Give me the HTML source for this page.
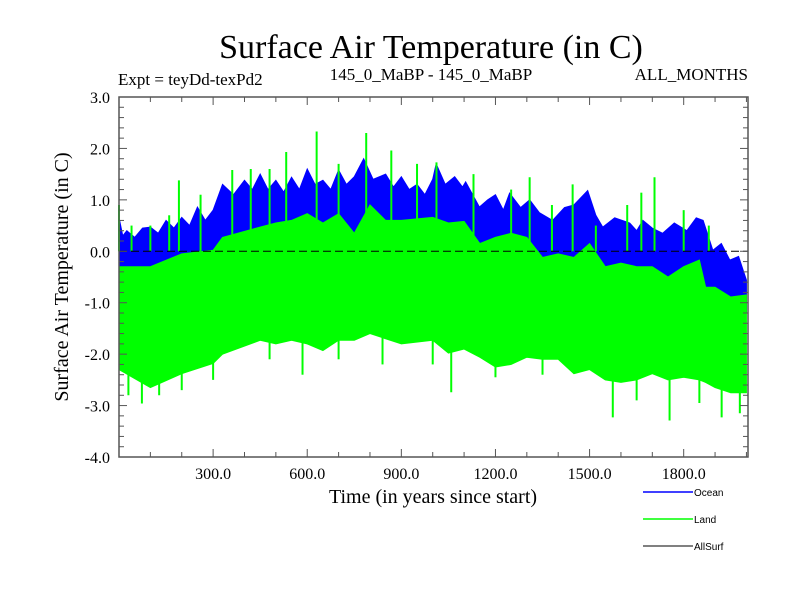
<!DOCTYPE html>
<html><head><meta charset="utf-8"><style>
body{margin:0;background:#fff;}
svg{display:block;font-family:"Liberation Serif",serif;}
</style></head><body>
<svg id="chart" width="800" height="600" viewBox="0 0 800 600">
<text x="431" y="58" font-size="34" text-anchor="middle">Surface Air Temperature (in C)</text>
<text x="118" y="85" font-size="17">Expt = teyDd-texPd2</text>
<text x="431" y="80" font-size="17" text-anchor="middle">145_0_MaBP - 145_0_MaBP</text>
<text x="748" y="80" font-size="17" text-anchor="end">ALL_MONTHS</text>
<text transform="translate(68,277) rotate(-90)" font-size="20" text-anchor="middle">Surface Air Temperature (in C)</text>
<text x="433" y="503" font-size="20" text-anchor="middle">Time (in years since start)</text>
<g id="plot"></g>
<g font-family="Liberation Sans, sans-serif" font-size="10">
<line x1="643" y1="492" x2="693" y2="492" stroke="#0000ff" stroke-width="1.5"/>
<text x="694" y="496">Ocean</text>
<line x1="643" y1="519" x2="693" y2="519" stroke="#00ff00" stroke-width="1.5"/>
<text x="694" y="523">Land</text>
<line x1="643" y1="546" x2="693" y2="546" stroke="#000" stroke-width="1"/>
<text x="694" y="550">AllSurf</text>
</g>
</svg>
<script>
const years = [0,12,25,50,75,100,125,150,175,200,225,250,275,300,330,365,400,425,450,475,500,525,550,575,600,625,650,675,700,725,750,780,810,850,875,900,925,950,975,1000,1011,1040,1070,1095,1105,1149,1175,1200,1225,1245,1280,1309,1340,1382,1420,1450,1494,1520,1542,1580,1628,1650,1670,1700,1733,1770,1810,1840,1862,1893,1920,1947,1975,2000];
const oceanTop = [0.66,0.3,0.4,0.27,0.45,0.47,0.35,0.6,0.45,0.66,0.5,0.86,0.6,0.8,1.3,1.1,1.38,1.2,1.5,1.2,1.38,1.15,1.44,1.2,1.6,1.3,1.38,1.2,1.58,1.3,1.45,1.8,1.4,1.5,1.25,1.45,1.2,1.3,1.1,1.4,1.7,1.3,1.45,1.25,1.35,0.86,1.0,1.1,0.8,1.13,0.85,1.0,0.75,0.6,0.85,0.9,1.18,0.7,0.47,0.65,0.55,0.4,0.6,0.45,0.35,0.55,0.4,0.65,0.6,0.02,0.15,-0.17,-0.1,-0.56];
const landYears = [0,100,200,300,330,450,500,550,600,650,700,750,800,850,900,1000,1050,1100,1150,1200,1250,1300,1350,1400,1450,1500,1550,1600,1650,1700,1750,1800,1850,1870,1900,1950,2000];
const landTop = [-0.3,-0.3,-0.05,0.02,0.27,0.47,0.55,0.6,0.73,0.55,0.73,0.35,0.9,0.6,0.6,0.66,0.55,0.58,0.15,0.27,0.35,0.27,-0.12,-0.05,-0.12,0.15,-0.3,-0.23,-0.3,-0.3,-0.5,-0.3,-0.17,-0.7,-0.7,-0.89,-0.85];
const landBottom = [-2.3,-2.65,-2.38,-2.18,-2.0,-1.73,-1.8,-1.73,-1.8,-1.93,-1.73,-1.73,-1.6,-1.7,-1.8,-1.73,-1.98,-1.9,-2.06,-2.25,-2.2,-2.06,-2.1,-2.1,-2.38,-2.3,-2.5,-2.55,-2.5,-2.38,-2.5,-2.45,-2.5,-2.55,-2.65,-2.75,-2.75];
const spikeYears = [0,191,361,533,630,788,868,1012,1309,1446,1665,1707,73,128,585,840,1059,1574,1755,1921,1979,40,100,160,260,420,480,700,950,1130,1250,1380,1520,1620,1800,1880,30,200,300,480,700,1000,1200,1350,1650,1850];
const spikeValues = [0.9,1.38,1.58,1.93,2.33,2.3,1.96,1.73,1.44,1.3,1.14,1.44,-2.96,-2.8,-2.4,-2.2,-2.74,-3.23,-3.29,-3.23,-3.15,0.5,0.5,0.7,1.1,1.6,1.6,1.7,1.7,1.5,1.2,0.9,0.5,0.9,0.8,0.5,-2.8,-2.7,-2.5,-2.1,-2.1,-2.2,-2.45,-2.4,-2.9,-2.95];
const xTicks = [300,600,900,1200,1500,1800];
const xTickLabels = ["300.0","600.0","900.0","1200.0","1500.0","1800.0"];
const yTicks = [3,2,1,0,-1,-2,-3,-4];
const yTickLabels = ["3.0","2.0","1.0","0.0","-1.0","-2.0","-3.0","-4.0"];

const L=119,R=748,T=97,B=457, X0=0,X1=2005, Y0=-4,Y1=3;
const sx=v=>L+(v-X0)/(X1-X0)*(R-L);
const sy=v=>B-(v-Y0)/(Y1-Y0)*(B-T);
const NS='http://www.w3.org/2000/svg';
const g=document.getElementById('plot');
function mk(tag,attrs){const e=document.createElementNS(NS,tag);for(const k in attrs)e.setAttribute(k,attrs[k]);g.appendChild(e);return e;}

let pts=years.map((y,i)=>sx(y)+','+sy(oceanTop[i]));
pts.push(sx(years[years.length-1])+','+sy(-1.2));pts.push(sx(0)+','+sy(-0.6));
const oc=mk('polygon',{points:pts.join(' '),fill:'#0000ff',stroke:'#0000ff','stroke-width':1});


let lp=landYears.map((y,i)=>sx(y)+','+sy(landTop[i]));
for(let i=landYears.length-1;i>=0;i--)lp.push(sx(landYears[i])+','+sy(landBottom[i]));
const ld=mk('polygon',{points:lp.join(' '),fill:'#00ff00',stroke:'#00ff00','stroke-width':1});


spikeYears.forEach((y,i)=>{
  const base=spikeValues[i]>0?0:-1.5;
  const s=mk('line',{x1:sx(y),x2:sx(y),y1:sy(base),y2:sy(spikeValues[i]),stroke:'#00ff00','stroke-width':2});
  
  
});
const z=mk('line',{x1:L,x2:R,y1:sy(0),y2:sy(0),stroke:'#000','stroke-width':1,'stroke-dasharray':'8,4'});


const fr=mk('rect',{x:L,y:T,width:R-L,height:B-T,fill:'none',stroke:'#555','stroke-width':1.5});


for(let v=100;v<X1;v+=100){
  const len=(v%300===0)?8:5;
  mk('line',{x1:sx(v),x2:sx(v),y1:B,y2:B-len,stroke:'#555'});
  mk('line',{x1:sx(v),x2:sx(v),y1:T,y2:T+len,stroke:'#555'});
}
for(let k=-20;k<=15;k++){
  const v=k/5;const len=(k%5===0)?8:5;
  mk('line',{x1:L,x2:L+len,y1:sy(v),y2:sy(v),stroke:'#555'});
  mk('line',{x1:R,x2:R-len,y1:sy(v),y2:sy(v),stroke:'#555'});
}
xTicks.forEach((v,i)=>{
  const t=mk('text',{x:sx(v),y:479,'font-size':16,'text-anchor':'middle'});
  t.textContent=xTickLabels[i];
  
  
});
yTicks.forEach((v,i)=>{
  const t=mk('text',{x:110,y:sy(v)+6,'font-size':16,'text-anchor':'end'});
  t.textContent=yTickLabels[i];
  
  
});
</script>
</body></html>
